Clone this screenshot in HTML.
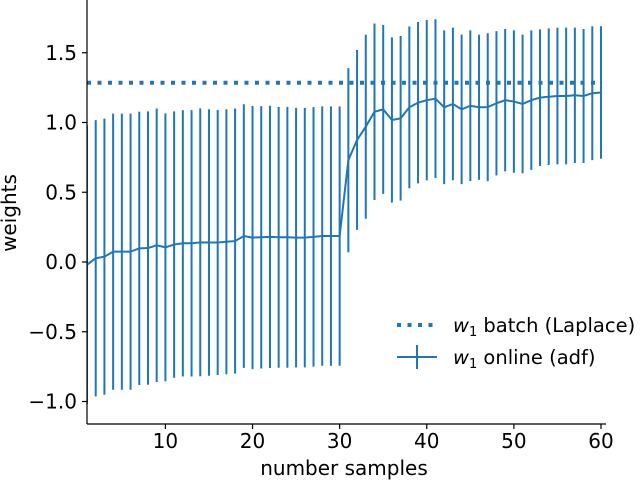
<!DOCTYPE html>
<html><head><meta charset="utf-8"><style>
body{margin:0;background:#fff}
svg text{font-family:"DejaVu Sans","Liberation Sans",sans-serif;fill:#000}
</style></head><body>
<svg id="c" width="640" height="480" viewBox="0 0 640 480">
<g id="plot"></g>
<g id="axes"></g>
<text x="344" y="475" text-anchor="middle" font-size="20">number samples</text>
<text transform="translate(16,213) rotate(-90)" text-anchor="middle" font-size="20">weights</text>
<g>
<line x1="397" x2="437" y1="325" y2="325" stroke="#1f77b4" stroke-width="4" stroke-dasharray="4 6.5"/>
<text x="453" y="332" font-size="19.5"><tspan font-style="italic">w</tspan><tspan font-size="13" dy="4">1</tspan><tspan dy="-4"> batch (Laplace)</tspan></text>
<line x1="397" x2="437" y1="357" y2="357" stroke="#1f77b4" stroke-width="2"/>
<line x1="417" x2="417" y1="345" y2="369" stroke="#1f77b4" stroke-width="2"/>
<text x="453" y="364" font-size="19.5"><tspan font-style="italic">w</tspan><tspan font-size="13" dy="4">1</tspan><tspan dy="-4"> online (adf)</tspan></text>
</g>
</svg>
<script>
const xs = Array.from({length:60},(_,i)=>i+1);
const means = [-0.02,0.027,0.038,0.074,0.074,0.074,0.098,0.10,0.12,0.105,0.125,0.134,0.134,0.141,0.14,0.14,0.145,0.15,0.186,0.175,0.177,0.18,0.177,0.177,0.175,0.175,0.18,0.186,0.186,0.186,
0.73,0.875,0.97,1.077,1.094,1.018,1.03,1.109,1.142,1.16,1.171,1.109,1.133,1.094,1.12,1.109,1.11,1.138,1.16,1.15,1.133,1.16,1.178,1.185,1.19,1.19,1.195,1.19,1.21,1.215];
const errs = [1.0,0.99,0.99,0.99,0.99,0.99,0.98,0.98,0.98,0.96,0.955,0.955,0.955,0.96,0.955,0.95,0.95,0.95,0.945,0.943,0.94,0.94,0.935,0.935,0.93,0.93,0.93,0.93,0.93,0.93,
0.66,0.645,0.66,0.633,0.606,0.592,0.59,0.58,0.578,0.575,0.569,0.551,0.547,0.536,0.54,0.52,0.53,0.517,0.51,0.51,0.497,0.5,0.49,0.49,0.49,0.49,0.485,0.48,0.48,0.475];
const batchValue = 1.285;
const xTicks = [10,20,30,40,50,60];
const yTicks = [-1.0,-0.5,0.0,0.5,1.0,1.5];
const yTickLabels = ["\u22121.0","\u22120.5","0.0","0.5","1.0","1.5"];

const L=87,R=601,T=0,B=424;
const X=v=>L+(v-1)*(R-L)/59;
const Y=v=>262-v*139.5;
const NS="http://www.w3.org/2000/svg";
const C="#1f77b4";
function mk(tag,attrs,parent){const e=document.createElementNS(NS,tag);for(const k in attrs)e.setAttribute(k,attrs[k]);parent.appendChild(e);return e;}
const plot=document.getElementById('plot'), axes=document.getElementById('axes');
const cp=mk('clipPath',{id:'clip'},plot);
mk('rect',{x:L,y:T,width:R-L+5,height:B-T},cp);
const g=mk('g',{'clip-path':'url(#clip)'},plot);
const bl=mk('line',{x1:L,x2:R,y1:Y(batchValue),y2:Y(batchValue),stroke:C,'stroke-width':4,'stroke-dasharray':'4 6.5'},g);


xs.forEach((x,i)=>{
  const e=mk('line',{x1:X(x),x2:X(x),y1:Y(means[i]+errs[i]),y2:Y(means[i]-errs[i]),stroke:C,'stroke-width':2},g);
  
  
});
const pl=mk('polyline',{points:xs.map((x,i)=>X(x)+','+Y(means[i])).join(' '),fill:'none',stroke:C,'stroke-width':2},g);


mk('line',{x1:L,x2:L,y1:T,y2:B,stroke:'#000','stroke-width':1.2},axes);
mk('line',{x1:L,x2:606,y1:B,y2:B,stroke:'#000','stroke-width':1.2},axes);
xTicks.forEach(t=>{
  mk('line',{x1:X(t),x2:X(t),y1:B,y2:B+5,stroke:'#000','stroke-width':1.2},axes);
  const tx=mk('text',{x:X(t),y:B+24,'text-anchor':'middle','font-size':20},axes);tx.textContent=t;
  
  
});
yTicks.forEach((t,i)=>{
  mk('line',{x1:L-5,x2:L,y1:Y(t),y2:Y(t),stroke:'#000','stroke-width':1.2},axes);
  const tx=mk('text',{x:L-10,y:Y(t)+7,'text-anchor':'end','font-size':20},axes);tx.textContent=yTickLabels[i];
  
  
});
</script>
</body></html>
